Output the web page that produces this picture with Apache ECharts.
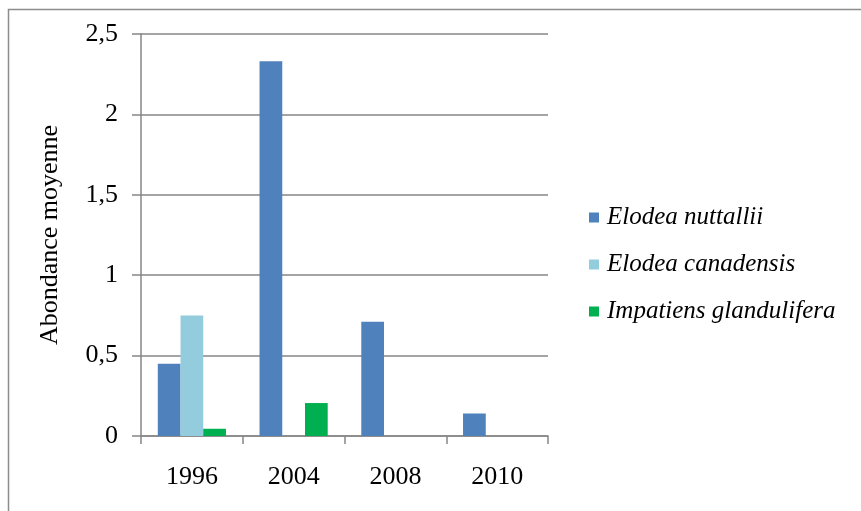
<!DOCTYPE html>
<html><head><meta charset="utf-8">
<script src="https://cdn.jsdelivr.net/npm/echarts@6/dist/echarts.min.js"></script>
<style>html,body{margin:0;padding:0;background:#fff}#c{width:861px;height:511px}</style>
</head><body><div id="c"></div>
<script>
const categories = ['1996', '2004', '2008', '2010'];
const elodeaNuttallii = [0.45, 2.33, 0.71, 0.14];
const elodeaCanadensis = [0.75, 0, 0, 0];
const impatiensGlandulifera = [0.045, 0.205, 0, 0];
const yTicks = {min: 0, max: 2.5, interval: 0.5};

const FONT = '"Liberation Serif", "Times New Roman", serif';
const chart = echarts.init(document.getElementById('c'), null, {renderer: 'canvas'});
const mk = (name, data, color) => ({
  name, type: 'bar', data, barGap: '0%', barCategoryGap: '33%',
  itemStyle: {color}, emphasis: {disabled: true}, animation: false
});
chart.setOption({
  animation: false,
  graphic: [{type: 'rect', shape: {x: 8.5, y: 9.5, width: 1000, height: 1000},
    style: {fill: 'none', stroke: '#8c8c8c', lineWidth: 1.5}, silent: true}],
  grid: {left: 141, right: 313, top: 34, bottom: 75},
  legend: {
    orient: 'vertical', left: 584, top: 200, itemWidth: 10, itemHeight: 10, itemGap: 22,
    icon: 'rect',
    textStyle: {fontFamily: FONT, fontSize: 25, fontStyle: 'italic', color: '#000', padding: [0, 0, 0, 3]},
    data: ['Elodea nuttallii', 'Elodea canadensis', 'Impatiens glandulifera']
  },
  xAxis: {
    type: 'category', data: categories,
    axisLine: {lineStyle: {color: '#868686', width: 1.5}},
    axisTick: {show: true, length: 8, lineStyle: {color: '#868686', width: 1.5}},
    axisLabel: {fontFamily: FONT, fontSize: 26, color: '#000', margin: 28}
  },
  yAxis: {
    type: 'value', min: yTicks.min, max: yTicks.max, interval: yTicks.interval,
    name: 'Abondance moyenne', nameLocation: 'middle', nameGap: 78, nameRotate: 90,
    nameTextStyle: {fontFamily: FONT, fontSize: 26, color: '#000'},
    axisLine: {show: true, lineStyle: {color: '#868686', width: 1.5}},
    axisTick: {show: true, length: 9, lineStyle: {color: '#868686', width: 1.5}},
    splitLine: {lineStyle: {color: '#868686', width: 1.5}},
    axisLabel: {fontFamily: FONT, fontSize: 26, color: '#000', margin: 23,
      formatter: v => String(v).replace('.', ',')}
  },
  series: [
    mk('Elodea nuttallii', elodeaNuttallii, '#4F81BD'),
    mk('Elodea canadensis', elodeaCanadensis, '#93CDDD'),
    mk('Impatiens glandulifera', impatiensGlandulifera, '#00B050')
  ]
});
</script></body></html>
